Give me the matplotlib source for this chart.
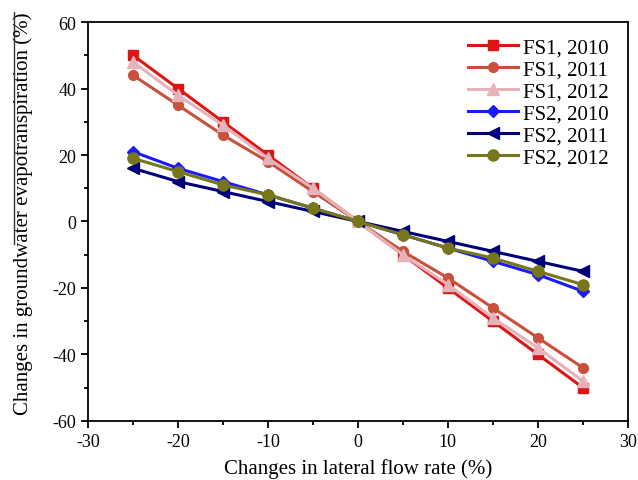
import matplotlib
matplotlib.use("Agg")
import matplotlib.pyplot as plt
from matplotlib.ticker import MultipleLocator
from matplotlib.lines import Line2D

plt.rcParams['font.family'] = ['Liberation Serif', 'DejaVu Serif']
plt.rcParams['axes.unicode_minus'] = False

x = [-25, -20, -15, -10, -5, 0, 5, 10, 15, 20, 25]
fs1_2010 = [50, 40, 30, 20, 10, 0, -10, -20, -30, -40, -50]
fs1_2011 = [44, 35, 26, 18, 9, 0, -9, -17, -26, -35, -44]
fs1_2012 = [48, 38, 29, 19, 10, 0, -10, -19, -29, -38, -48]
fs2_2010 = [21, 16, 12, 8, 4, 0, -4, -8, -12, -16, -21]
fs2_2011 = [16, 12, 9, 6, 3, 0, -3, -6, -9, -12, -15]
fs2_2012 = [19, 15, 11, 8, 4, 0, -4, -8, -11, -15, -19]

labels = ["FS1, 2010", "FS1, 2011", "FS1, 2012", "FS2, 2010", "FS2, 2011", "FS2, 2012"]
series = [fs1_2010, fs1_2011, fs1_2012, fs2_2010, fs2_2011, fs2_2012]
colors = ["#dd1515", "#c9503a", "#e6b3bb", "#1a1aff", "#00007a", "#77771a"]
markers = ["s", "o", "^", "D", "<", "o"]
msizes = [7, 7, 8, 6.5, 8, 8]

fig = plt.figure(figsize=(6.38, 4.81), dpi=100)
ax = fig.add_axes([0.138, 0.123, 0.846, 0.829])

for ys, lab, c, m, ms in zip(series, labels, colors, markers, msizes):
    ax.plot(x, ys, color=c, marker=m, markersize=ms, linewidth=2.2, label=lab)

ax.set_xlim(-30, 30)
ax.set_ylim(-60, 60)
ax.xaxis.set_major_locator(MultipleLocator(10))
ax.xaxis.set_minor_locator(MultipleLocator(5))
ax.yaxis.set_major_locator(MultipleLocator(20))
ax.yaxis.set_minor_locator(MultipleLocator(10))
ax.tick_params(axis='both', which='major', direction='out', length=5, width=1.3, labelsize=13, top=False, right=False)
ax.tick_params(axis='both', which='minor', direction='out', length=3, width=1.3, top=False, right=False)
for s in ax.spines.values():
    s.set_linewidth(1.3)

ax.set_xlabel("Changes in lateral flow rate (%)", fontsize=15, labelpad=6)
ax.set_ylabel("Changes in groundwater evapotranspiration (%)", fontsize=15)
ax.yaxis.set_label_coords(-0.102, 0.523)

ax.legend(loc="upper right", frameon=False, fontsize=15, handlelength=2.4,
          handletextpad=0.25, labelspacing=0.12, borderaxespad=0.5,
          bbox_to_anchor=(1.0, 1.008))

fig.add_artist(Line2D([13.5/638, 13.5/638], [1-13/481, 1-245/481], color="#333333", linewidth=1.0))

fig.savefig("out.png", dpi=100)
